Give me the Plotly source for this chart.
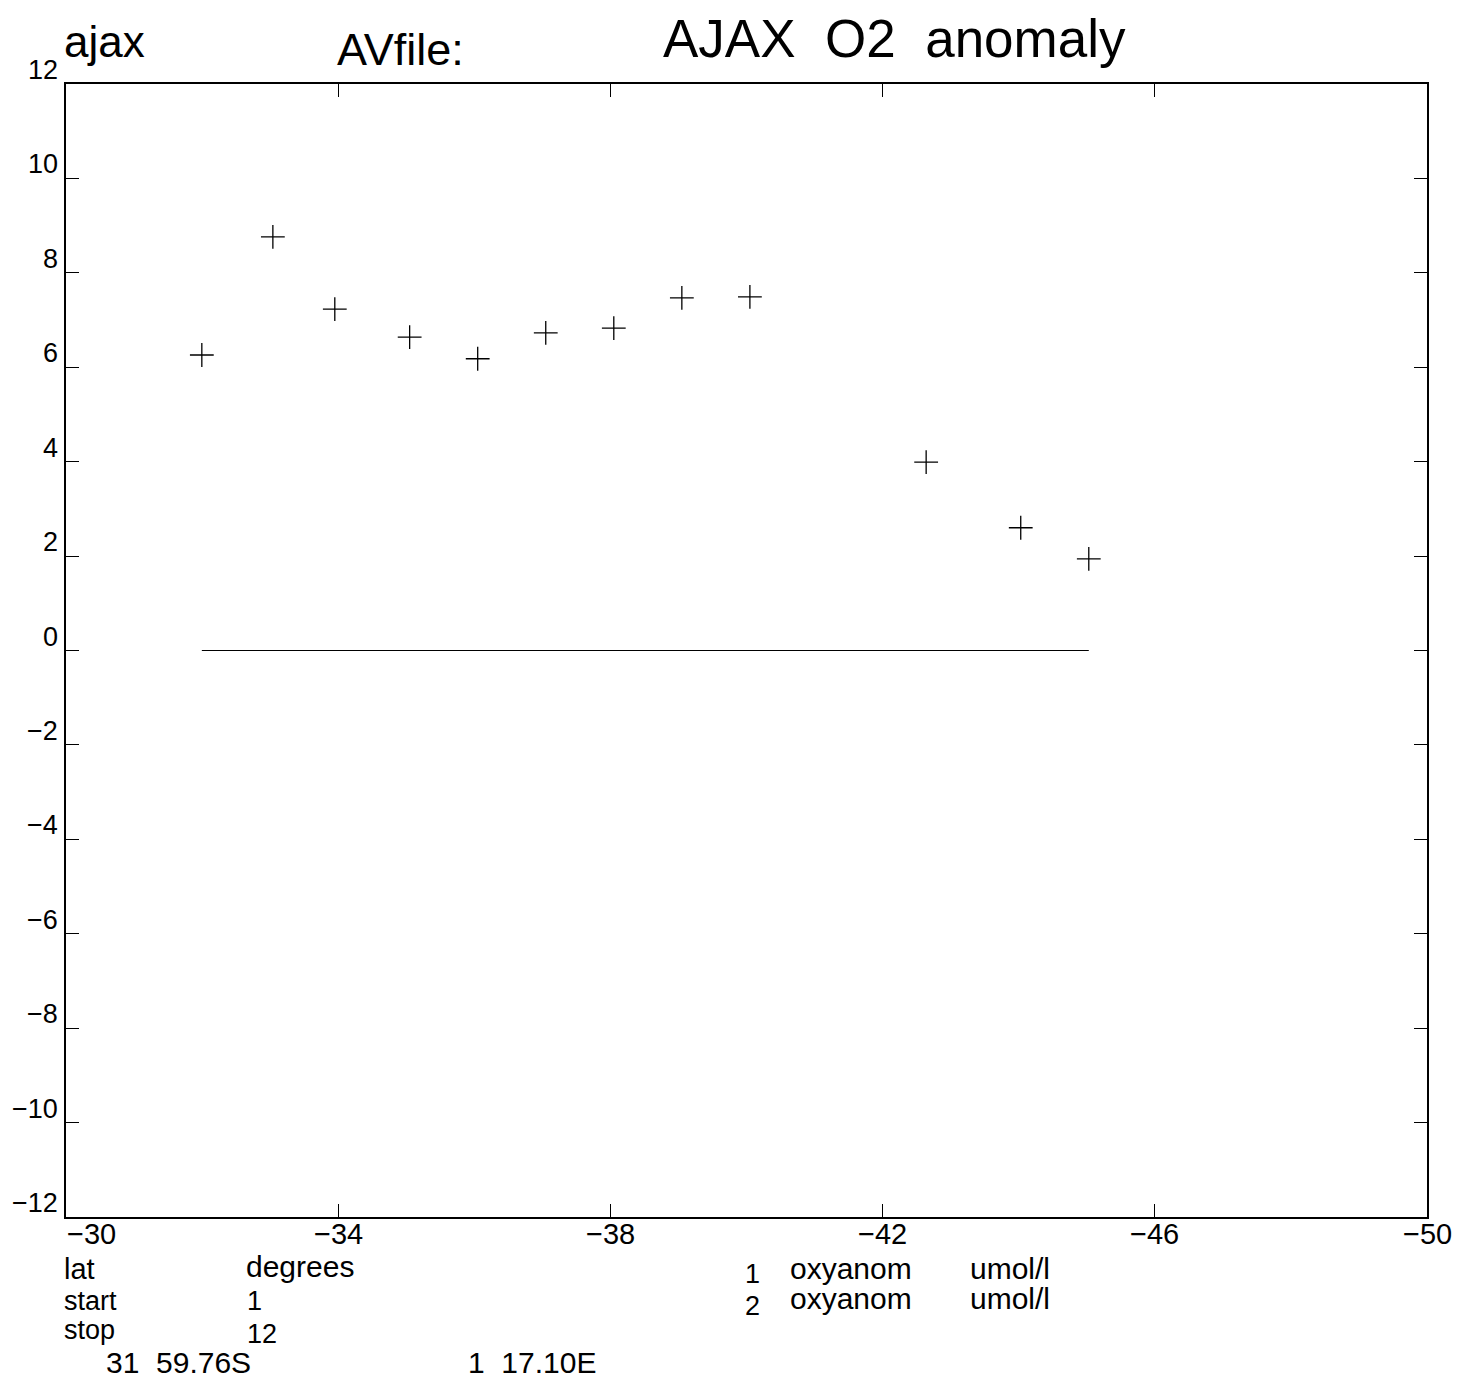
import plotly.graph_objects as go

# data
lat = [-31.996, -33.04, -33.95, -35.05, -36.05, -37.05, -38.05, -39.05, -40.05, -42.64, -44.03, -45.03]
oxyanom1 = [6.26, 8.76, 7.23, 6.64, 6.18, 6.73, 6.83, 7.47, 7.49, 3.99, 2.60, 1.94]
oxyanom2 = [0.0] * len(lat)

x_ticks = [-30, -34, -38, -42, -46, -50]
y_ticks = [-12, -10, -8, -6, -4, -2, 0, 2, 4, 6, 8, 10, 12]

FONT = "Liberation Sans Narrow, Liberation Sans, DejaVu Sans"
OFF = 8  # page body margin
W, H = 1461 - OFF, 1380 - OFF
L, R, T, B = 66 - OFF, 34, 84 - OFF, 163

def lab(v):
    return str(v).replace("-", "\u2212")

fig = go.Figure()
fig.add_trace(go.Scatter(x=lat, y=oxyanom2, mode="lines",
                         line=dict(color="black", width=1), showlegend=False))
fig.add_trace(go.Scatter(x=lat, y=oxyanom1, mode="markers",
                         marker=dict(symbol="cross-thin", size=17,
                                     line=dict(color="black", width=1.3)),
                         showlegend=False))

ann = []
for v in y_ticks:
    ann.append(dict(x=0, xref="paper", y=v, yref="y", text=lab(v), showarrow=False,
                    xanchor="right", yanchor="middle", xshift=-6, yshift=14,
                    font=dict(size=27, color="black", family=FONT)))
for i, v in enumerate(x_ticks):
    ann.append(dict(x=v, xref="x", y=0, yref="paper", text=lab(v), showarrow=False,
                    xanchor="left" if i == 0 else "center", yanchor="top", yshift=0,
                    borderpad=0, font=dict(size=29, color="black", family=FONT)))

fig.update_layout(
    width=W, height=H,
    margin=dict(l=L, r=R, t=T, b=B),
    paper_bgcolor="white", plot_bgcolor="white",
    xaxis=dict(range=[-30, -50], tickvals=x_ticks, showticklabels=False,
               ticks="inside", ticklen=13, tickcolor="black", tickwidth=1,
               showline=True, linecolor="black", linewidth=1.5, mirror="ticks",
               showgrid=False, zeroline=False),
    yaxis=dict(range=[-12, 12], tickvals=y_ticks, showticklabels=False,
               ticks="inside", ticklen=13, tickcolor="black", tickwidth=1,
               showline=True, linecolor="black", linewidth=1.5, mirror="ticks",
               showgrid=False, zeroline=False),
)

# free texts at page-pixel positions (converted to plot-area paper coords)
pw = W - L - R
ph = H - T - B
def ptxt(x, y, s, size):
    x -= OFF
    y -= OFF
    ann.append(dict(x=(x - L) / pw, y=1 - (y - T) / ph, xref="paper", yref="paper",
                    text=s, showarrow=False, xanchor="left", yanchor="middle",
                    borderpad=0, font=dict(size=size, color="black", family=FONT)))

ptxt(63, 42, "ajax", 44)
ptxt(336, 50, "AVfile:", 45)
ptxt(662, 38, "AJAX  O2  anomaly", 53)
ptxt(63, 1269, "lat", 29)
ptxt(245, 1266, "degrees", 30)
ptxt(63, 1301, "start", 27)
ptxt(246, 1301, "1", 27)
ptxt(63, 1330, "stop", 27)
ptxt(246, 1334, "12", 27)
ptxt(105, 1362, "31  59.76S", 30)
ptxt(467, 1362, "1  17.10E", 30)
ptxt(744, 1274, "1", 27)
ptxt(789, 1268, "oxyanom", 30)
ptxt(969, 1268, "umol/l", 30)
ptxt(744, 1306, "2", 27)
ptxt(789, 1298, "oxyanom", 30)
ptxt(969, 1298, "umol/l", 30)

fig.update_layout(annotations=ann)
fig.write_html("out.html")
